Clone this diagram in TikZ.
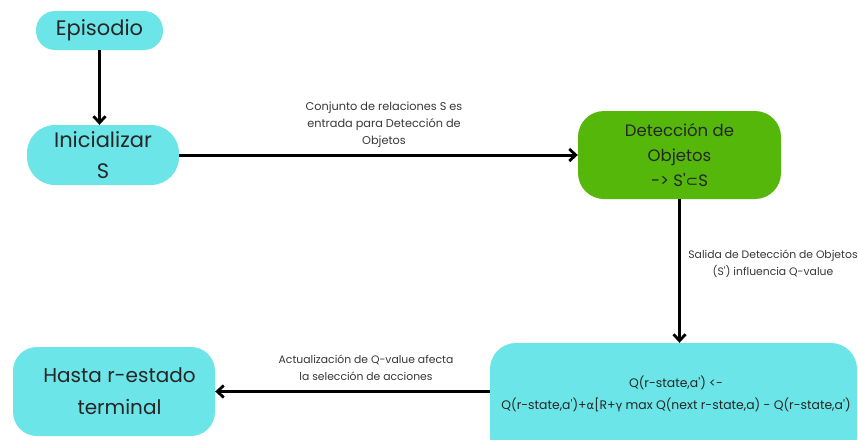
\documentclass[tikz,border=0pt]{standalone}
\usepackage{fontspec}
\setmainfont{Poppins}[Ligatures=TeXOff]
\newfontfamily\symfont{DejaVu Sans}
\usetikzlibrary{arrows.meta}
\definecolor{cyanbox}{HTML}{6CE5E8}
\definecolor{greenbox}{HTML}{55B70A}
\begin{document}
\begin{tikzpicture}[x=1pt,y=-1pt,
  box/.style={fill=#1, rounded corners=18pt, inner sep=0pt, align=center, text=black!85},
  flow/.style={line width=3pt, -{Straight Barb[length=6.5pt,width=12pt,line width=2.8pt]}},
  lab/.style={font=\fontsize{10.8}{17}\selectfont, align=center, text=black!78}]
\useasboundingbox (0,0) rectangle (858,439);
\fill[white] (0,0) rectangle (858,439);
\clip (0,0) rectangle (858,439);
\node[box=cyanbox, rounded corners=19pt, minimum width=127pt, minimum height=39pt, font=\fontsize{21}{24}\selectfont] (ep) at (99.5,30.5) {Episodio};
\node[box=cyanbox, rounded corners=28pt, minimum width=152pt, minimum height=60pt, font=\fontsize{21}{31}\selectfont] (ini) at (103,155) {Inicializar\\S};
\node[box=greenbox, rounded corners=26pt, minimum width=203pt, minimum height=88pt, font=\fontsize{16.5}{25}\selectfont] (det) at (679.5,155) {Detección de\\Objetos\\-> S'{\symfont\fontsize{15}{25}\selectfont ⊂}S};
\node[box=cyanbox, rounded corners=24pt, minimum width=202pt, minimum height=89pt] (fin) at (114,391.5) {};
\node[font=\fontsize{20}{32}\selectfont, align=center, text=black!85] (fint) at (119.5,391.5) {Hasta r-estado\\terminal};
\node[box=cyanbox, rounded corners=26pt, minimum width=367pt, minimum height=120pt] (q) at (673.5,403) {};
\node[font=\fontsize{12.4}{22}\selectfont, align=center, text=black!85] (qt) at (676,394) {Q(r-state,a') <-\\Q(r-state,a')+{\symfont\fontsize{11.5}{22}\selectfont α}[R+{\symfont\fontsize{11.5}{22}\selectfont γ} max Q(next r-state,a) - Q(r-state,a')};
\draw[flow] (ep.south) -- (ep.south |- ini.north);
\draw[flow] (ini.east) -- (det.west);
\draw[flow] (det.south) -- (det.south |- q.north);
\draw[flow] (q.west |- fin.east) -- (fin.east);
\node[lab, font=\fontsize{11.3}{17}\selectfont] (l1) at (384,125) {Conjunto de relaciones S es\\entrada para Detección de\\Objetos};
\node[lab] (l2) at (773,264) {Salida de Detección de Objetos\\(S') influencia Q-value};
\node[lab] (l3) at (366,368) {Actualización de Q-value afecta\\la selección de acciones};
\end{tikzpicture}
\end{document}
